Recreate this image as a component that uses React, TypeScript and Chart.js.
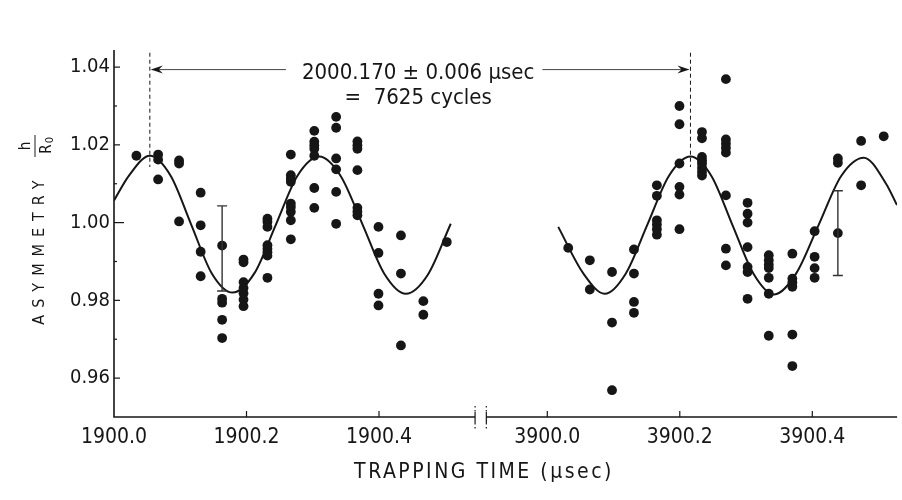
import React, { useEffect, useRef } from 'react';
import { Chart, registerables } from 'chart.js';

Chart.register(...registerables);

// ---- data (trapping time in µsec, asymmetry) ----
const SEG1_TIMES = [1900.0338, 1900.0666, 1900.0982, 1900.1308, 1900.1632, 1900.1955, 1900.2316, 1900.2669, 1900.3023, 1900.3353, 1900.3674, 1900.3992, 1900.4331, 1900.4669, 1900.5023];
const SEG1_VALUES = [
  [1.0172],
  [1.0175, 1.0162, 1.0111],
  [1.016, 1.0152, 1.0003],
  [1.0077, 0.9993, 0.9925, 0.9862],
  [0.9941, 0.9804, 0.9794, 0.975, 0.9703],
  [0.9905, 0.9898, 0.9847, 0.9832, 0.9818, 0.9802, 0.9785],
  [1.001, 1.0002, 0.9989, 0.9942, 0.9933, 0.9924, 0.9915, 0.9858],
  [1.0175, 1.0122, 1.0113, 1.0105, 1.0049, 1.004, 1.0028, 1.0006, 0.9957],
  [1.0236, 1.0208, 1.0199, 1.019, 1.0172, 1.0089, 1.0038],
  [1.0272, 1.0244, 1.0165, 1.0137, 1.0079, 0.9997],
  [1.0209, 1.0199, 1.019, 1.0135, 1.0038, 1.0028, 1.0019],
  [0.9989, 0.9922, 0.9817, 0.9787],
  [0.9967, 0.9869, 0.9684],
  [0.9798, 0.9763],
  [0.995],
];
const SEG2_TIMES = [3900.0316, 3900.0642, 3900.0977, 3900.1308, 3900.1654, 3900.1995, 3900.2335, 3900.2696, 3900.3023, 3900.3343, 3900.3699, 3900.4035, 3900.4386, 3900.4737, 3900.5078];
const SEG2_VALUES = [
  [0.9935],
  [0.9903, 0.9828],
  [0.9873, 0.9743, 0.9569],
  [0.9931, 0.9869, 0.9796, 0.9768],
  [1.0096, 1.0069, 1.0006, 0.9995, 0.9983, 0.9969],
  [1.03, 1.0253, 1.0152, 1.0092, 1.0072, 0.9983],
  [1.0233, 1.0217, 1.0169, 1.016, 1.0152, 1.0141, 1.0131, 1.0121],
  [1.0369, 1.0214, 1.0203, 1.0192, 1.018, 1.007, 0.9933, 0.989],
  [1.0051, 1.0023, 1.0, 0.9937, 0.9886, 0.9873, 0.9804],
  [0.9916, 0.9903, 0.9892, 0.9883, 0.9858, 0.9817, 0.9709],
  [0.992, 0.9856, 0.9846, 0.9835, 0.9712, 0.9631],
  [0.9978, 0.9912, 0.9883, 0.9858],
  [1.0165, 1.0154, 0.9973],
  [1.021, 1.0096],
  [1.0222],
];

// fitted curve
const FIT1_T = [1900.0, 1900.0226, 1900.0541, 1900.0857, 1900.1165, 1900.1474, 1900.1789, 1900.212, 1900.2444, 1900.2767, 1900.3098, 1900.3421, 1900.3752, 1900.4075, 1900.4406, 1900.4737, 1900.5083];
const FIT1_Y = [1.0057, 1.0121, 1.0172, 1.012, 0.9995, 0.987, 0.982, 0.987, 0.9995, 1.012, 1.017, 1.012, 0.9995, 0.987, 0.9817, 0.9866, 0.9997];
const FIT2_T = [3900.0165, 3900.0541, 3900.0868, 3900.1188, 3900.1511, 3900.1835, 3900.2161, 3900.2477, 3900.2792, 3900.3108, 3900.3424, 3900.3759, 3900.4098, 3900.4436, 3900.4777, 3900.5113, 3900.5278];
const FIT2_Y = [0.9989, 0.987, 0.9817, 0.987, 0.9995, 1.012, 1.017, 1.012, 0.9995, 0.987, 0.9815, 0.987, 0.9995, 1.012, 1.0167, 1.01, 1.0045];

// error bars
const ERR_T = [1900.1632, 3900.4386];
const ERR_LO = [0.9824, 0.9864];
const ERR_HI = [1.0043, 1.0082];

// period markers
const MARK_T = [1900.0541, 3900.2161];
const ANNOT = ['2000.170 \u00b1 0.006 \u00b5sec', '=  7625 cycles'];

// axes
const X_TICK_T = [1900.0, 1900.2, 1900.4, 3900.0, 3900.2, 3900.4];
const X_TICK_LABELS = ['1900.0', '1900.2', '1900.4', '3900.0', '3900.2', '3900.4'];
const Y_TICKS = [0.96, 0.97, 0.98, 0.99, 1.0, 1.01, 1.02, 1.03, 1.04];
const Y_LABELED = ['0.96', '0.98', '1.00', '1.02', '1.04'];
const X_TITLE = 'TRAPPING TIME (\u00b5sec)';
const Y_TITLE = 'ASYMMETRY';
const X_MIN_T = 1900.0;
const X_MAX_T = 3900.528;
const Y_MIN = 0.95;
const Y_MAX = 1.0444;
const AXIS1_END_T = 1900.545;
const AXIS2_START_T = 3899.908;

const GAP = 0.654; // axis offset of the second time window
const toAxis = (t: number) => (t < 3000 ? t - 1900 : t - 3900 + GAP);

const INK = '#161616';
const FONT = '"DejaVu Sans Condensed", "DejaVu Sans", sans-serif';

export default function App() {
  const ref = useRef<HTMLCanvasElement | null>(null);

  useEffect(() => {
    document.body.style.margin = '0';
    const canvas = ref.current;
    if (!canvas) return;

    const points: { x: number; y: number }[] = [];
    SEG1_TIMES.forEach((t, i) => SEG1_VALUES[i].forEach((v) => points.push({ x: toAxis(t), y: v })));
    SEG2_TIMES.forEach((t, i) => SEG2_VALUES[i].forEach((v) => points.push({ x: toAxis(t), y: v })));
    const fit1 = FIT1_T.map((t, i) => ({ x: toAxis(t), y: FIT1_Y[i] }));
    const fit2 = FIT2_T.map((t, i) => ({ x: toAxis(t), y: FIT2_Y[i] }));

    const decor = {
      id: 'decor',
      afterDraw(chart: any) {
        const { ctx, chartArea: a, scales } = chart;
        const x = scales.x;
        const y = scales.y;
        const px = (t: number) => x.getPixelForValue(toAxis(t));
        ctx.save();
        ctx.strokeStyle = INK;
        ctx.fillStyle = INK;
        ctx.lineCap = 'butt';

        // axes lines
        ctx.lineWidth = 1.6;
        ctx.beginPath();
        ctx.moveTo(a.left, a.top);
        ctx.lineTo(a.left, a.bottom);
        ctx.lineTo(px(AXIS1_END_T), a.bottom);
        ctx.moveTo(px(AXIS2_START_T), a.bottom);
        ctx.lineTo(a.right, a.bottom);
        ctx.stroke();

        // axis break marks
        ctx.lineWidth = 1.2;
        [AXIS1_END_T, AXIS2_START_T].forEach((t) => {
          const bx = px(t);
          ctx.beginPath();
          ctx.moveTo(bx, a.bottom - 5);
          ctx.lineTo(bx, a.bottom + 6);
          ctx.stroke();
          ctx.setLineDash([1.5, 2.5]);
          ctx.beginPath();
          ctx.moveTo(bx, a.bottom - 11);
          ctx.lineTo(bx, a.bottom - 5);
          ctx.moveTo(bx, a.bottom + 6);
          ctx.lineTo(bx, a.bottom + 12);
          ctx.stroke();
          ctx.setLineDash([]);
        });

        // inward ticks
        ctx.lineWidth = 1.2;
        Y_TICKS.forEach((v) => {
          const py = y.getPixelForValue(v);
          const major = Y_LABELED.includes(v.toFixed(2));
          const len = v === 1.0 ? 10 : major ? 6 : 3;
          ctx.beginPath();
          ctx.moveTo(a.left, py);
          ctx.lineTo(a.left + len, py);
          ctx.stroke();
        });
        X_TICK_T.forEach((t, i) => {
          if (i === 0) return;
          const tx = px(t);
          ctx.beginPath();
          ctx.moveTo(tx, a.bottom);
          ctx.lineTo(tx, a.bottom - 6);
          ctx.stroke();
        });

        // error bars
        ctx.lineWidth = 1.4;
        ctx.strokeStyle = '#333';
        ERR_T.forEach((t, i) => {
          const ex = px(t);
          const y1 = y.getPixelForValue(ERR_HI[i]);
          const y2 = y.getPixelForValue(ERR_LO[i]);
          ctx.beginPath();
          ctx.moveTo(ex, y1);
          ctx.lineTo(ex, y2);
          ctx.moveTo(ex - 5, y1);
          ctx.lineTo(ex + 5, y1);
          ctx.moveTo(ex - 5, y2);
          ctx.lineTo(ex + 5, y2);
          ctx.stroke();
        });
        ctx.strokeStyle = INK;

        // period markers (dashed)
        const m1 = px(MARK_T[0]);
        const m2 = px(MARK_T[1]);
        ctx.lineWidth = 1;
        ctx.setLineDash([4, 3]);
        [m1, m2].forEach((mx) => {
          ctx.beginPath();
          ctx.moveTo(mx, y.getPixelForValue(1.0437));
          ctx.lineTo(mx, y.getPixelForValue(1.0143));
          ctx.stroke();
        });
        ctx.setLineDash([]);

        // annotation text
        ctx.font = `22px ${FONT}`;
        ctx.textAlign = 'center';
        ctx.textBaseline = 'alphabetic';
        const cx = (m1 + m2) / 2 - 2;
        const l1 = y.getPixelForValue(1.0391);
        const w1 = ctx.measureText(ANNOT[0]).width;
        ctx.fillText(ANNOT[0], cx, l1 + 8);
        ctx.fillText(ANNOT[1], cx, l1 + 33);

        // arrows
        ctx.lineWidth = 1;
        ctx.strokeStyle = '#444';
        const ay = l1 - 1;
        ctx.beginPath();
        ctx.moveTo(cx - w1 / 2 - 16, ay);
        ctx.lineTo(m1 + 2, ay);
        ctx.moveTo(cx + w1 / 2 + 8, ay);
        ctx.lineTo(m2 - 2, ay);
        ctx.stroke();
        ctx.fillStyle = INK;
        ctx.beginPath();
        ctx.moveTo(m1 + 1, ay);
        ctx.lineTo(m1 + 13, ay - 4);
        ctx.lineTo(m1 + 9, ay);
        ctx.lineTo(m1 + 13, ay + 4);
        ctx.closePath();
        ctx.fill();
        ctx.beginPath();
        ctx.moveTo(m2 - 1, ay);
        ctx.lineTo(m2 - 13, ay - 4);
        ctx.lineTo(m2 - 9, ay);
        ctx.lineTo(m2 - 13, ay + 4);
        ctx.closePath();
        ctx.fill();

        // x title
        ctx.fillStyle = INK;
        ctx.font = `21px ${FONT}`;
        (ctx as any).letterSpacing = '2.5px';
        ctx.textAlign = 'center';
        ctx.fillText(X_TITLE, a.left + 370, 478);
        (ctx as any).letterSpacing = '0px';

        // y title with h/R0 fraction
        ctx.save();
        ctx.translate(44, 249);
        ctx.rotate(-Math.PI / 2);
        ctx.font = `16px ${FONT}`;
        (ctx as any).letterSpacing = '7px';
        ctx.textAlign = 'center';
        ctx.fillText(Y_TITLE, 0, 0);
        (ctx as any).letterSpacing = '0px';
        ctx.restore();

        ctx.save();
        ctx.translate(44, 146);
        ctx.rotate(-Math.PI / 2);
        ctx.font = `15px ${FONT}`;
        ctx.textAlign = 'center';
        ctx.fillText('h', 0, -14);
        ctx.lineWidth = 1.2;
        ctx.beginPath();
        ctx.moveTo(-11, -9);
        ctx.lineTo(11, -9);
        ctx.stroke();
        ctx.fillText('R', -3, 7);
        ctx.font = `11px ${FONT}`;
        ctx.fillText('0', 6, 9);
        ctx.restore();

        ctx.restore();
      },
    };

    const chart = new Chart(canvas, {
      type: 'scatter',
      data: {
        datasets: [
          {
            type: 'line',
            data: fit1,
            borderColor: INK,
            borderWidth: 2,
            pointRadius: 0,
            cubicInterpolationMode: 'monotone',
            fill: false,
          } as any,
          {
            type: 'line',
            data: fit2,
            borderColor: INK,
            borderWidth: 2,
            pointRadius: 0,
            cubicInterpolationMode: 'monotone',
            fill: false,
          } as any,
          {
            type: 'scatter',
            data: points,
            pointRadius: 4.9,
            pointBackgroundColor: INK,
            pointBorderWidth: 0,
            borderColor: INK,
          } as any,
        ],
      },
      options: {
        responsive: false,
        maintainAspectRatio: false,
        animation: false,
        events: [],
        layout: { padding: { top: 50, right: 2, left: 0, bottom: 0 } },
        plugins: { legend: { display: false }, tooltip: { enabled: false } },
        scales: {
          x: {
            type: 'linear',
            min: toAxis(X_MIN_T),
            max: toAxis(X_MAX_T),
            grid: { display: false, drawTicks: false },
            border: { display: false },
            afterBuildTicks: (scale: any) => {
              scale.ticks = X_TICK_T.map((t) => ({ value: toAxis(t) }));
            },
            afterFit: (scale: any) => {
              scale.height = 83;
            },
            ticks: {
              autoSkip: false,
              maxRotation: 0,
              padding: 8,
              color: INK,
              font: { family: FONT, size: 21 },
              callback: (_v: any, i: number) => X_TICK_LABELS[i],
            },
          },
          y: {
            type: 'linear',
            min: Y_MIN,
            max: Y_MAX,
            grid: { display: false, drawTicks: false },
            border: { display: false },
            afterBuildTicks: (scale: any) => {
              scale.ticks = Y_TICKS.map((v) => ({ value: v }));
            },
            afterFit: (scale: any) => {
              scale.width = 114;
            },
            ticks: {
              autoSkip: false,
              padding: 4,
              color: INK,
              font: { family: FONT, size: 20 },
              callback: (v: any) => {
                const s = Number(v).toFixed(2);
                return Y_LABELED.includes(s) ? s : '';
              },
            },
          },
        },
      },
      plugins: [decor],
    } as any);

    return () => chart.destroy();
  }, []);

  return (
    <div style={{ width: 902, height: 500, background: '#fff' }}>
      <canvas ref={ref} width={902} height={500} />
    </div>
  );
}
